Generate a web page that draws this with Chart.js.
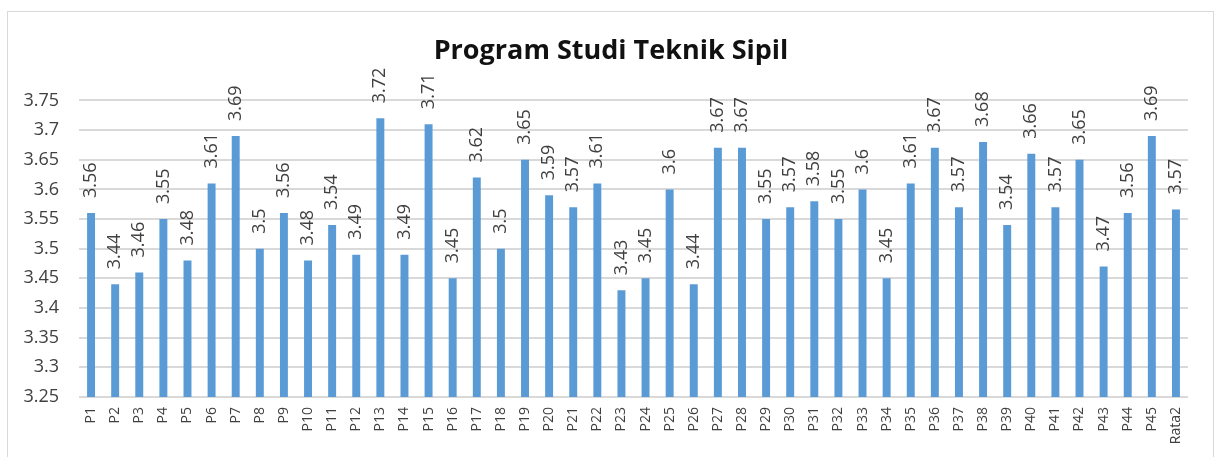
<!DOCTYPE html>
<html>
<head>
<meta charset="utf-8">
<script src="https://cdn.jsdelivr.net/npm/chart.js@4"></script>
<style>
  html, body { margin: 0; padding: 0; background: #fff; overflow: hidden; }
  #wrap { position: relative; width: 1218px; height: 457px; }
  #frame { position: absolute; left: 7px; top: 11px; width: 1207px; height: 460px; border: 1px solid #d9d9d9; box-sizing: border-box; }
  #myChart { position: absolute; left: 0; top: 0; }
</style>
</head>
<body>
<div id="wrap">
  <div id="frame"></div>
  <canvas id="myChart" width="1218" height="457"></canvas>
</div>
<script>
let labels = ['P1', 'P2', 'P3', 'P4', 'P5', 'P6', 'P7', 'P8', 'P9', 'P10',
  'P11', 'P12', 'P13', 'P14', 'P15', 'P16', 'P17', 'P18', 'P19', 'P20',
  'P21', 'P22', 'P23', 'P24', 'P25', 'P26', 'P27', 'P28', 'P29', 'P30',
  'P31', 'P32', 'P33', 'P34', 'P35', 'P36', 'P37', 'P38', 'P39', 'P40',
  'P41', 'P42', 'P43', 'P44', 'P45', 'Rata2'];
let values = [3.56, 3.44, 3.46, 3.55, 3.48, 3.61, 3.69, 3.5, 3.56, 3.48,
  3.54, 3.49, 3.72, 3.49, 3.71, 3.45, 3.62, 3.5, 3.65, 3.59,
  3.57, 3.61, 3.43, 3.45, 3.6, 3.44, 3.67, 3.67, 3.55, 3.57,
  3.58, 3.55, 3.6, 3.45, 3.61, 3.67, 3.57, 3.68, 3.54, 3.66,
  3.57, 3.65, 3.47, 3.56, 3.69, 3.566];
let yMin = 3.25, yMax = 3.75, yStep = 0.05;
let barColor = '#5b9bd5';
let font = "'Open Sans', sans-serif";

let fmt = (v) => String(Number(v.toFixed(2)));

// value labels above bars, rotated like the original
let barLabels = {
  id: 'barLabels',
  afterLayout(chart) {
    // original title sits a bit right of the canvas centre
    chart.titleBlock.left = 34;
  },
  afterDatasetsDraw(chart) {
    let ctx = chart.ctx;
    let meta = chart.getDatasetMeta(0);
    ctx.save();
    ctx.fillStyle = '#404040';
    ctx.font = '18px ' + font;
    ctx.textAlign = 'left';
    ctx.textBaseline = 'middle';
    meta.data.forEach((bar, i) => {
      ctx.save();
      ctx.translate(bar.x, bar.y - 15);
      ctx.rotate(-Math.PI / 2);
      ctx.fillText(fmt(values[i]), 0, 0);
      ctx.restore();
    });
    ctx.restore();
  }
};

let ctx = document.getElementById('myChart').getContext('2d');
let myChart = new Chart(ctx, {
  type: 'bar',
  data: {
    labels: labels,
    datasets: [{
      data: values,
      backgroundColor: barColor,
      barPercentage: 0.33,
      categoryPercentage: 1
    }]
  },
  options: {
    responsive: false,
    animation: false,
    layout: { padding: { left: 0, right: 30, top: 0, bottom: 0 } },
    plugins: {
      legend: { display: false },
      tooltip: { enabled: false },
      title: {
        display: true,
        text: 'Program Studi Teknik Sipil',
        color: '#111',
        font: { family: font, size: 27, weight: 'bold', lineHeight: 1.2 },
        padding: { top: 35, bottom: 33 }
      }
    },
    scales: {
      x: {
        grid: { display: false, drawTicks: false },
        border: { display: false },
        ticks: {
          color: '#404040',
          font: { family: font, size: 14 },
          minRotation: 90,
          maxRotation: 90,
          autoSkip: false,
          padding: 10
        },
        afterFit: (scale) => { scale.height = 60; }
      },
      y: {
        min: yMin,
        max: yMax,
        grid: { color: '#d9d9d9', lineWidth: 2, drawTicks: false },
        border: { display: false },
        ticks: {
          stepSize: yStep,
          color: '#404040',
          font: { family: font, size: 18 },
          padding: 20,
          callback: (v) => fmt(v)
        },
        afterFit: (scale) => { scale.width = 79; }
      }
    }
  },
  plugins: [barLabels]
});
</script>
</body>
</html>
